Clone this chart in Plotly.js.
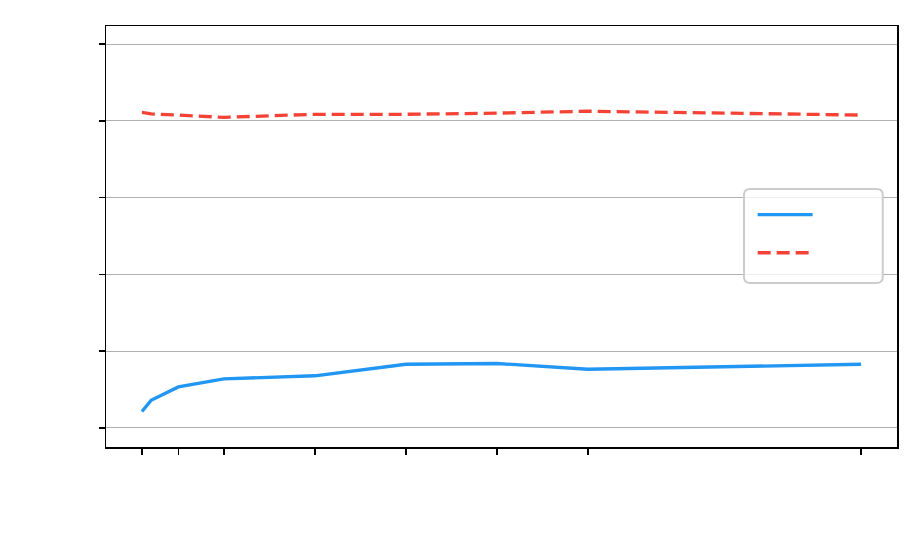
<!DOCTYPE html>
<html>
<head>
<meta charset="utf-8">
<script src="https://cdn.plot.ly/plotly-3.0.1.min.js"></script>
<style>
  body { margin: 0; background: #fff; }
  #chart { width: 923px; height: 547px; }
</style>
</head>
<body>
<div id="chart"></div>
<script>
const Plotly = window.Plotly;

// values
const xValues = [0.1, 0.2, 0.5, 1, 2, 3, 4, 5, 8];
const blueValues = [0.043, 0.072, 0.107, 0.128, 0.136, 0.166, 0.168, 0.153, 0.166];
const redValues = [0.822, 0.818, 0.815, 0.809, 0.817, 0.817, 0.820, 0.825, 0.815];
const xTicks = [0.1, 0.5, 1, 2, 3, 4, 5, 8];
const yTicks = [0, 0.2, 0.4, 0.6, 0.8, 1.0];

const blue = {
    x: xValues,
    y: blueValues,
    mode: 'lines',
    type: 'scatter',
    name: ' ',
    line: { color: '#2196F3', width: 3.3 },
};

const red = {
    x: xValues,
    y: redValues,
    mode: 'lines',
    type: 'scatter',
    name: ' ',
    line: { color: '#F44336', width: 3.3, dash: '13px,6px' },
};

// rounded legend frame (paper coords)
const lx0 = 0.8066, lx1 = 0.982, ly0 = 0.3895, ly1 = 0.6128;
const rx = 0.0076, ry = 0.0143;
const frame = `M${lx0 + rx},${ly0} L${lx1 - rx},${ly0} Q${lx1},${ly0} ${lx1},${ly0 + ry} ` +
    `L${lx1},${ly1 - ry} Q${lx1},${ly1} ${lx1 - rx},${ly1} L${lx0 + rx},${ly1} ` +
    `Q${lx0},${ly1} ${lx0},${ly1 - ry} L${lx0},${ly0 + ry} Q${lx0},${ly0} ${lx0 + rx},${ly0} Z`;

const axisCommon = {
    showline: true,
    mirror: true,
    linecolor: '#000',
    linewidth: 1.5,
    ticks: 'outside',
    ticklen: 6,
    tickwidth: 1.5,
    tickcolor: '#000',
    showticklabels: false,
    zeroline: false,
};

const layout = {
    width: 923,
    height: 547,
    margin: { l: 106, r: 26, t: 26, b: 100, pad: 0 },
    paper_bgcolor: '#fff',
    plot_bgcolor: '#fff',
    showlegend: true,
    xaxis: Object.assign({}, axisCommon, {
        range: [-0.295, 8.395],
        tickvals: xTicks,
        showgrid: false,
    }),
    yaxis: Object.assign({}, axisCommon, {
        range: [-0.0495, 1.0469],
        tickvals: yTicks,
        showgrid: true,
        gridcolor: '#b0b0b0',
        gridwidth: 1,
    }),
    legend: {
        x: 0.8175,
        y: 0.609,
        xanchor: 'left',
        yanchor: 'top',
        bgcolor: 'rgba(0,0,0,0)',
        borderwidth: 0,
        itemwidth: 55,
        font: { family: 'DejaVu Sans', size: 27, color: '#000' },
    },
    shapes: [
        {
            type: 'path',
            xref: 'paper',
            yref: 'paper',
            path: frame,
            fillcolor: 'rgba(255,255,255,0.8)',
            line: { color: '#cccccc', width: 2 },
            layer: 'above',
        },
    ],
};

Plotly.newPlot('chart', [blue, red], layout, { displayModeBar: false, staticPlot: true });
</script>
</body>
</html>
